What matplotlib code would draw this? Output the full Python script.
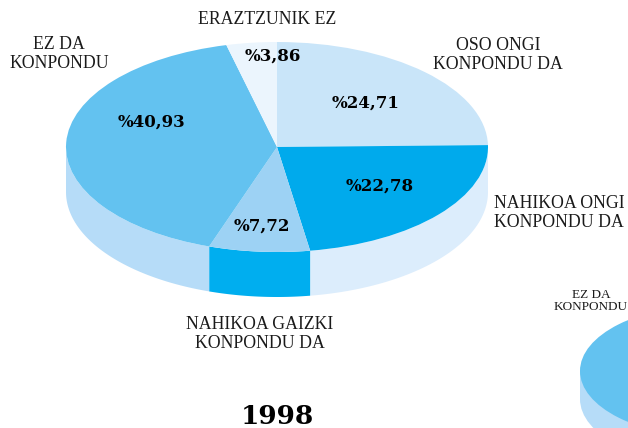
"""Konponketa pie, 1998: tilted pie with a side wall, plus the next pie cut off at the right."""
import numpy as np
import matplotlib
matplotlib.use("Agg")
import matplotlib.pyplot as plt
from matplotlib.patches import Ellipse, Rectangle

W, H = 628, 428
values = [24.71, 22.78, 7.72, 40.93, 3.86]
top_colors = ["#c9e5f9", "#00aaec", "#9dd2f4", "#63c2f0", "#ebf5fd"]
# wall colours do not follow the wedges in the original
wall_colors = ["#dcedfc", "#dcedfc", "#00aeef", "#b6dcf8"]
pct_labels = ["%24,71", "%22,78", "%7,72", "%40,93", "%3,86"]
pct_pos = [(366, 103), (380, 186), (262, 226), (152, 122), (273, 56)]
cat_labels = ["ERAZTZUNIK EZ", "EZ DA\nKONPONDU", "OSO ONGI\nKONPONDU DA",
              "NAHIKOA GAIZKI\nKONPONDU DA"]
cat_pos = [(267, 20), (59, 54), (498, 55), (260, 334)]
year = "1998"

CX, CY, RX, RY, DEPTH = 277, 147, 211, 105, 45
SERIF = "Liberation Serif"
BOLD = "DejaVu Serif"

fig = plt.figure(figsize=(W / 100, H / 100), dpi=100)

# pixel axes for the text and the cut-off second pie
px = fig.add_axes([0, 0, 1, 1], xlim=(0, W), ylim=(H, 0))
px.axis("off")
px.add_patch(Ellipse((712, 399), 264, 132, color="#b6dcf8", lw=0))
px.add_patch(Rectangle((580, 371), 132, 28, color="#b6dcf8", lw=0))
px.add_patch(Ellipse((712, 371), 264, 132, color="#63c2f0", lw=0))

# pie axes: one unit is RX px across and RY px down, so the circle comes out tilted
ax = fig.add_axes([0, 0, 1, 1], facecolor="none")
wedges, _ = ax.pie(values, colors=top_colors, startangle=90, counterclock=False, radius=1,
                   wedgeprops=dict(lw=0))
for w in wedges:
    w.set_zorder(3)
ax.set_aspect("auto")
ax.set_xlim(-CX / RX, (W - CX) / RX)
ax.set_ylim((CY - H) / RY, CY / RY)

# side wall, front half only
d = DEPTH / RY
edges = 90 - 3.6 * np.cumsum(values)
starts = [0, edges[0], edges[1], edges[2]]
ends = [edges[0], edges[1], edges[2], -180]
for a0, a1, c in zip(starts, ends, wall_colors):
    t = np.radians(np.linspace(a0, a1, 60))
    xs = np.r_[np.cos(t), np.cos(t[::-1])]
    ys = np.r_[np.sin(t), np.sin(t[::-1]) - d]
    ax.fill(xs, ys, color=c, lw=0, zorder=2)

for s, (x, y) in zip(pct_labels, pct_pos):
    fig.text(x / W, 1 - y / H, s, ha="center", va="center", family=BOLD,
             weight="bold", fontsize=12, color="black", zorder=10)
for s, (x, y) in zip(cat_labels, cat_pos):
    fig.text(x / W, 1 - y / H, s, ha="center", va="center", family=SERIF,
             fontsize=12.8, color="#1a1a1a", linespacing=1.15)
fig.text(494 / W, 1 - 213 / H, "NAHIKOA ONGI\nKONPONDU DA", ha="left", va="center",
         family=SERIF, fontsize=12.8, color="#1a1a1a", linespacing=1.15)
fig.text(591 / W, 1 - 301 / H, "EZ DA\nKONPONDU", ha="center", va="center",
         family=SERIF, fontsize=9.5, color="#1a1a1a", linespacing=1.1)
fig.text(277 / W, 1 - 416 / H, year, ha="center", va="center", family=BOLD,
         weight="bold", fontsize=19, color="black")

fig.savefig("out.png", dpi=100)
